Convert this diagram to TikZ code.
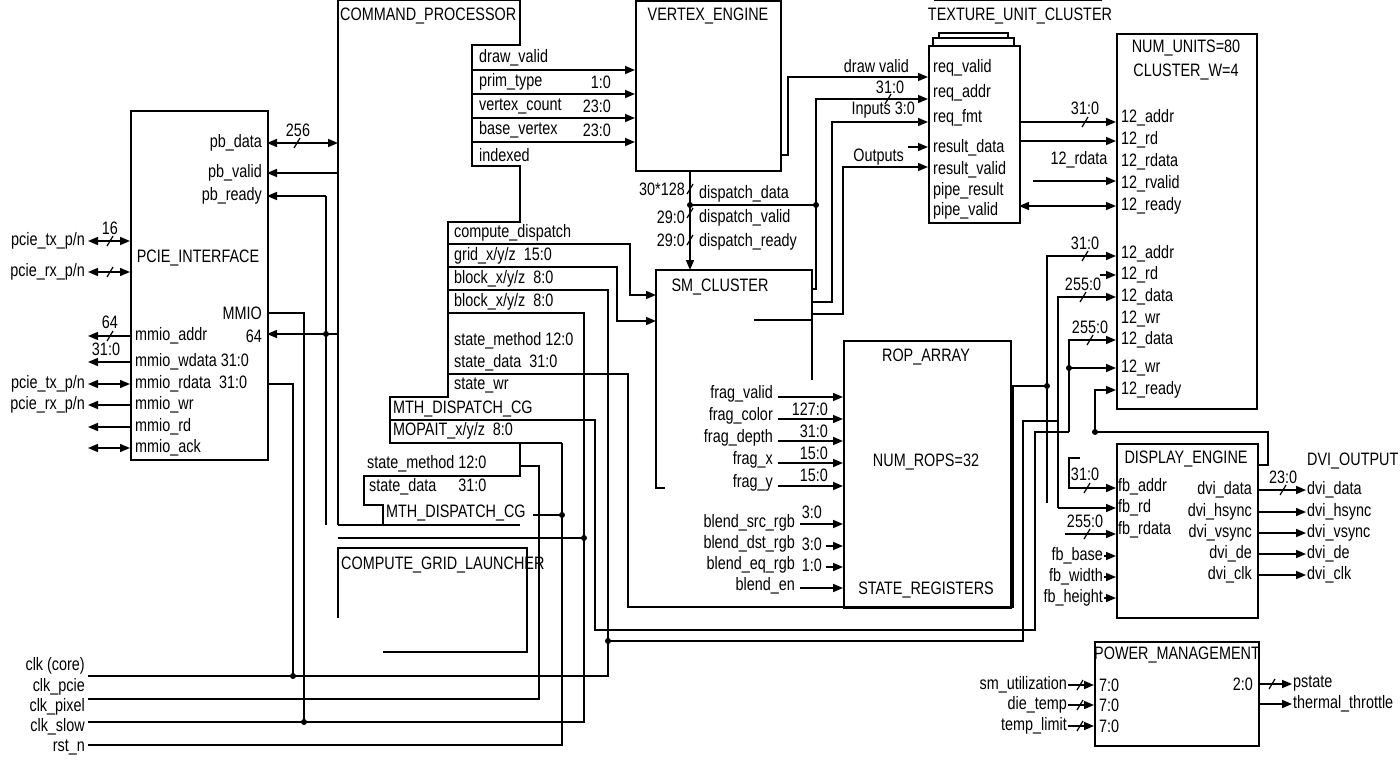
\documentclass[tikz,border=0pt]{standalone}
\usepackage{fontspec}
\setmainfont{Liberation Sans}[FakeStretch=0.8]
\usetikzlibrary{arrows.meta,positioning}

\tikzset{
  wire/.style={line width=1.6pt},
  arr/.style={wire, -{Triangle[length=10pt,width=8pt]}},
  barr/.style={wire, {Triangle[length=10pt,width=8pt]}-{Triangle[length=10pt,width=8pt]}},
  larr/.style={wire, {Triangle[length=10pt,width=8pt]}-},
  blk/.style={draw, line width=1.6pt, inner sep=0pt, anchor=north west},
  lbl/.style={inner sep=1pt, font=\fontsize{18}{20}\selectfont},
  lw/.style={lbl, anchor=west},
  le/.style={lbl, anchor=east},
  dot/.style={circle, fill, inner sep=0pt, minimum size=6pt},
  bus/.pic={\draw[line width=1.2pt] (-3,5) -- (3,-5);}
}

\begin{document}
\begin{tikzpicture}[x=1pt, y=-1pt]
    \useasboundingbox (0,0) rectangle (1400,764);

    % blocks
    \node[blk, minimum width=137pt, minimum height=349pt] (pcie) at (130,110) {};
    \node[lbl] at (198,258) {PCIE\_INTERFACE};
    \node[blk, minimum width=145pt, minimum height=170pt] (ve) at (635,0) {};
    \node[lbl] at (708,16) {VERTEX\_ENGINE};
    \node[blk, minimum width=91pt, minimum height=177pt] (tuc) at (928,45) {};
    \draw[wire] (933,45) -- (933,38) -- (1014,38) -- (1014,45);
    \draw[wire] (939,38) -- (939,33) -- (1008,33) -- (1008,38);
    \draw[wire] (934,0) -- (1102,0);
    \node[lbl] at (1020,16) {TEXTURE\_UNIT\_CLUSTER};
    \node[blk, minimum width=140pt, minimum height=375pt] (mem) at (1116,33) {};
    \node[lbl] at (1186,48) {NUM\_UNITS=80};
    \node[lbl] at (1186,72) {CLUSTER\_W=4};
    \node[blk, minimum width=167pt, minimum height=267pt] (rop) at (843,340) {};
    \node[lbl] at (926,357) {ROP\_ARRAY};
    \node[lbl] at (926,462) {NUM\_ROPS=32};
    \node[lbl] at (926,590) {STATE\_REGISTERS};
    \node[blk, minimum width=141pt, minimum height=174pt] (de) at (1116,443) {};
    \node[lbl] at (1186,459) {DISPLAY\_ENGINE};
    \node[blk, minimum width=164pt, minimum height=104pt] (pm) at (1094,641) {};
    \node[lbl] at (1177,655) {POWER\_MANAGEMENT};

    % command processor outline
    \draw[wire] (338,525) -- (338,0) -- (520,0) -- (520,45) -- (472,45) -- (472,166) -- (520,166)
        -- (520,222) -- (448,222) -- (448,397) -- (390,397) -- (390,443) -- (520,443) -- (520,476)
        -- (364,476) -- (364,505) -- (383,505) -- (383,525);
    \draw[wire] (338,525) -- (520,525);
    \node[lw] at (339,16) {COMMAND\_PROCESSOR};
    % sm cluster and grid launcher outlines
    \draw[wire] (665,488) -- (656,488) -- (656,270) -- (812,270) -- (812,320) -- (754,320);
    \draw[wire] (812,320) -- (812,380);
    \node[lbl] (sm) at (720,287) {SM\_CLUSTER};
    \draw[wire] (338,618) -- (338,548) -- (527,548) -- (527,652) -- (383,652);
    \node[lw] at (340,565) {COMPUTE\_GRID\_LAUNCHER};

    % pcie pins
    \foreach \t/\y in {pb\_data/143, pb\_valid/173, pb\_ready/196, MMIO/313, 64/336}
        \node[le] at (263,\y) {\t};
    \foreach \t/\y in {mmio\_addr/336, mmio\_wdata 31:0/362, mmio\_rdata\ \ 31:0/384, mmio\_wr/405, mmio\_rd/427, mmio\_ack/448}
        \node[lw] at (134,\y) {\t};
    \foreach \t/\y in {{pcie\_tx\_p/n}/241, {pcie\_rx\_p/n}/272, {pcie\_tx\_p/n}/384, {pcie\_rx\_p/n}/405}
        \node[le] at (86,\y) {\t};
    \draw[barr] (88,241) -- (130,241); \pic at (110,241) {bus}; \node[lbl] at (110,228) {16};
    \draw[barr] (88,272) -- (130,272); \pic at (110,272) {bus};
    \draw[arr] (130,336) -- (88,336); \pic at (110,336) {bus}; \node[lbl] at (110,322) {64};
    \draw[arr] (130,362) -- (88,362); \node[lbl] at (106,349) {31:0};
    \draw[barr] (88,384) -- (130,384);
    \draw[arr] (130,405) -- (88,405);
    \draw[arr] (130,427) -- (88,427);
    \draw[barr] (88,448) -- (130,448);
    \draw[barr] (267,143) -- (338,143); \pic at (297,143) {bus}; \node[lbl] at (298,130) {256};
    \draw[arr] (338,173) -- (267,173);
    \draw[arr] (326,196) -- (267,196); \draw[wire] (326,196) -- (326,525);
    \draw[arr] (338,334) -- (267,334); \node[dot] at (326,334) {};
    \draw[wire] (267,313) -- (304,313) -- (304,722);
    \draw[wire] (267,384) -- (293,384) -- (293,676);

    % clocks
    \foreach \t/\y in {clk (core)/666, clk\_pcie/687, clk\_pixel/707, clk\_slow/727, rst\_n/747}
        \node[le] at (86,\y) {\t};
    \draw[wire] (88,676) -- (608,676) -- (608,290) -- (448,290);
    \draw[wire] (88,699) -- (539,699) -- (539,466) -- (520,466);
    \draw[wire] (88,722) -- (584,722) -- (584,313) -- (448,313);
    \draw[wire] (88,745) -- (562,745) -- (562,443);
    \node[dot] at (293,676) {}; \node[dot] at (304,722) {};
    \draw[wire] (338,538) -- (584,538); \node[dot] at (584,538) {};
    \draw[wire] (533,515) -- (562,515); \node[dot] at (562,515) {};

    % command processor fields
    \foreach \t/\y in {draw\_valid/58, prim\_type/82, vertex\_count/106, base\_vertex/130, indexed/155}
        \node[lw] at (478,\y) {\t};
    \foreach \t/\y in {1:0/82, 23:0/106, 23:0/130}
        \node[le] at (612,\y) {\t};
    \foreach \y in {70,94,118,142}
        \draw[arr] (472,\y) -- (635,\y);
    \foreach \t/\y in {compute\_dispatch/233, {grid\_x/y/z\ \ 15:0}/256, {block\_x/y/z\ \ 8:0}/279, {block\_x/y/z\ \ 8:0}/302,
        state\_method 12:0/341, state\_data\ \ 31:0/363, state\_wr/385}
        \node[lw] at (453,\y) {\t};
    \node[lw] at (392,409) {MTH\_DISPATCH\_CG};
    \node[lw] at (392,431) {MOPAIT\_x/y/z\ \ 8:0};
    \node[lw] at (366,464) {state\_method 12:0};
    \node[lw] at (368,487) {state\_data\hspace{22pt}31:0};
    \node[lw] at (385,513) {MTH\_DISPATCH\_CG};
    \draw[arr] (448,244) -- (630,244) -- (630,295) -- (656,295);
    \draw[arr] (448,267) -- (617,267) -- (617,321) -- (656,321);
    \draw[wire] (448,374) -- (628,374) -- (628,607) -- (1013,607) -- (1013,386);
    \draw[wire] (390,420) -- (595,420) -- (595,630) -- (1035,630) -- (1035,432) -- (1069,432);
    \draw[wire] (608,641) -- (1023,641) -- (1023,421) -- (1058,421);
    \node[dot] at (608,641) {};
    \draw[wire] (390,443) -- (562,443);

    % vertex engine to sm cluster
    \draw[arr] (ve.south -| 690,0) -- (690,270);
    \pic at (690,189) {bus}; \pic at (690,213) {bus}; \pic at (690,240) {bus};
    \node[le] at (686,189) {30*128}; \node[le] at (686,217) {29:0}; \node[le] at (686,240) {29:0};
    \node[lw] at (698,194) {dispatch\_data};
    \node[lw] at (698,218) {dispatch\_valid};
    \node[lw] at (698,242) {dispatch\_ready};
    \draw[wire] (690,205) -- (816,205); \node[dot] at (690,205) {}; \node[dot] at (816,205) {};

    % texture unit cluster
    \foreach \t/\y in {req\_valid/68, req\_addr/93, req\_fmt/118, result\_data/148, result\_valid/170, pipe\_result/191, pipe\_valid/211}
        \node[lw] at (932,\y) {\t};
    \draw[arr] (780,155) -- (788,155) -- (788,77) -- (928,77); \node[le] at (910,66) {draw valid};
    \draw[arr] (812,289) -- (816,289) -- (816,99) -- (928,99); \pic at (888,99) {bus}; \node[lbl] at (890,87) {31:0};
    \draw[arr] (812,302) -- (832,302) -- (832,122) -- (928,122); \node[le] at (916,110) {Inputs 3:0};
    \draw[arr] (908,147) -- (928,147);
    \draw[arr] (812,314) -- (843,314) -- (843,167) -- (928,167); \node[le] at (905,157) {Outputs};

    % l2 memory
    \foreach \t/\y in {12\_addr/118, 12\_rd/140, 12\_rdata/162, 12\_rvalid/184, 12\_ready/206,
        12\_addr/254, 12\_rd/275, 12\_data/297, 12\_wr/319, 12\_data/340, 12\_wr/368, 12\_ready/390}
        \node[lw] at (1120,\y) {\t};
    \draw[arr] (1019,122) -- (1116,122); \pic at (1085,122) {bus}; \node[lbl] at (1085,108) {31:0};
    \draw[arr] (1019,141) -- (1116,141);
    \node[lbl] at (1079,160) {12\_rdata};
    \draw[arr] (1033,181) -- (1116,181);
    \draw[barr] (1019,206) -- (1116,206);
    \draw[arr] (1047,503) -- (1047,256) -- (1116,256); \pic at (1085,256) {bus}; \node[lbl] at (1085,243) {31:0};
    \draw[arr] (1100,275) -- (1116,275);
    \draw[arr] (1058,508) -- (1058,297) -- (1116,297); \pic at (1083,297) {bus}; \node[lbl] at (1083,284) {255:0};
    \draw[arr] (1069,432) -- (1069,340) -- (1116,340); \pic at (1090,340) {bus}; \node[lbl] at (1090,327) {255:0};
    \draw[arr] (1069,368) -- (1116,368); \node[dot] at (1069,368) {};
    \draw[arr] (1095,432) -- (1095,390) -- (1116,390);
    \draw[wire] (1095,432) -- (1268,432) -- (1268,465) -- (1257,465); \node[dot] at (1095,432) {};
    \draw[wire] (rop.east |- 0,386) -- (1047,386); \node[dot] at (1047,386) {};

    % rop inputs
    \foreach \t/\y in {frag\_valid/394, frag\_color/416, frag\_depth/438, frag\_x/460, frag\_y/483}
        \node[le] at (774,\y) {\t};
    \foreach \y in {397,419,441,463,486}
        \draw[arr] (778,\y) -- (843,\y);
    \foreach \t/\y in {127:0/409, 31:0/431, 15:0/453, 15:0/475}
        \node[le] at (829,\y) {\t};
    \foreach \t/\y in {blend\_src\_rgb/523, blend\_dst\_rgb/544, blend\_eq\_rgb/565, blend\_en/586}
        \node[le] at (796,\y) {\t};
    \node[le] at (823,512) {3:0}; \node[le] at (823,544) {3:0}; \node[le] at (823,565) {1:0};
    \draw[arr] (800,524) -- (843,524);
    \draw[arr] (826,546) -- (843,546);
    \draw[arr] (826,567) -- (843,567);
    \draw[arr] (800,588) -- (843,588);

    % display engine
    \foreach \t/\y in {fb\_addr/487, fb\_rd/508, fb\_rdata/530}
        \node[lw] at (1117,\y) {\t};
    \foreach \t/\y in {dvi\_data/490, dvi\_hsync/512, dvi\_vsync/533, dvi\_de/554, dvi\_clk/575}
        {\node[le] at (1253,\y) {\t}; \node[lw] at (1306,\y) {\t}; \draw[arr] (1257,\y) -- (1306,\y);}
    \pic at (1283,490) {bus}; \node[lbl] at (1283,477) {23:0};
    \node[lw] at (1306,461) {DVI\_OUTPUT};
    \draw[arr] (1080,458) -- (1069,458) -- (1069,488) -- (1116,488); \pic at (1087,488) {bus}; \node[lbl] at (1085,474) {31:0};
    \draw[arr] (1058,508) -- (1116,508);
    \draw[arr] (1065,534) -- (1116,534); \pic at (1087,534) {bus}; \node[lbl] at (1085,521) {255:0};
    \foreach \t/\y in {fb\_base/556, fb\_width/577, fb\_height/598}
        {\node[le] (n) at (1104,\y) {\t}; \draw[arr] (n.east) -- (1116,\y);}

    % power management
    \foreach \t/\y in {sm\_utilization/685, die\_temp/705, temp\_limit/726}
        {\node[le] (n) at (1068,\y) {\t}; \draw[arr] (n.east) -- (pm.west |- n.east); \pic at (1080,\y) {bus};
         \node[lw] at (1098,\y) {7:0};}
    \node[le] at (1254,684) {2:0};
    \draw[arr] (1258,684) -- (1292,684); \pic at (1272,684) {bus}; \node[lw] at (1292,684) {pstate};
    \draw[arr] (1258,704) -- (1292,704); \node[lw] at (1292,704) {thermal\_throttle};
\end{tikzpicture}
\end{document}
